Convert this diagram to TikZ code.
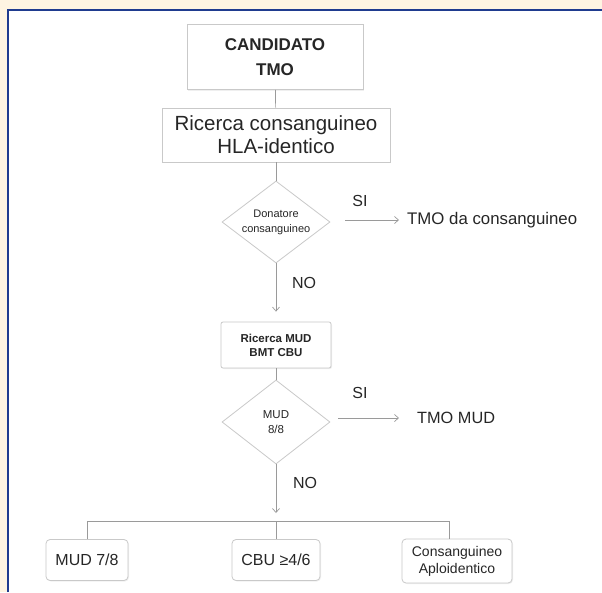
\documentclass[tikz,border=0pt]{standalone}
\usepackage{fontspec}
\setmainfont{Liberation Sans}
\usetikzlibrary{arrows.meta,shapes.geometric,shadows}
\definecolor{cream}{HTML}{FEF4E2}
\definecolor{navy}{HTML}{1F3B8F}
\definecolor{ink}{HTML}{262626}
\definecolor{edge}{HTML}{C9C9C9}
\definecolor{wire}{HTML}{9A9A9A}
\tikzset{
  box/.style={draw=edge, line width=0.8pt, fill=white, text=ink, align=center,
    inner sep=2pt, drop shadow={opacity=0.12, shadow xshift=1pt, shadow yshift=-1pt}},
  rbox/.style={box, rounded corners=4pt},
  dia/.style={draw=edge, line width=0.8pt, diamond, inner sep=0pt},
  txt/.style={text=ink, inner sep=0pt, align=center},
  wireline/.style={draw=wire, line width=0.7pt},
  arr/.style={wireline, -{Straight Barb[length=4pt,width=7pt]}},
}
\begin{document}
\begin{tikzpicture}[x=1pt,y=-1pt]
\useasboundingbox (0,0) rectangle (602,592);
\fill[cream] (0,0) rectangle (602,592);
\fill[white] (8,10) rectangle (602,592);
\draw[navy, line width=2pt] (8,592) -- (8,10) -- (602,10);

% main column
\node[box, minimum width=176pt, minimum height=65pt, font=\fontsize{17}{25}\selectfont\bfseries] (cand) at (275,57) {CANDIDATO\\TMO};
\node[box, minimum width=228pt, minimum height=54pt, font=\fontsize{20.5}{23}\selectfont] (ric) at (276,135) {Ricerca consanguineo\\HLA-identico};
\node[dia, minimum width=108pt, minimum height=82pt] (d1) at (276,222) {};
\node[txt, font=\fontsize{11}{15}\selectfont] (d1t) at (d1.center) {Donatore\\consanguineo};
\node[txt, font=\fontsize{16.8}{17}\selectfont, anchor=west] (tmo1) at (407,220) {TMO da consanguineo};
\node[txt, font=\fontsize{16}{16}\selectfont] (si1) at (360,201) {SI};
\node[txt, font=\fontsize{16}{16}\selectfont] (no1) at (304,283) {NO};

\node[rbox, rounded corners=2pt, minimum width=110pt, minimum height=46pt, font=\fontsize{11.5}{14}\selectfont\bfseries] (mud) at (276,345) {Ricerca MUD\\BMT CBU};
\node[dia, minimum width=108pt, minimum height=84pt] (d2) at (276,422) {};
\node[txt, font=\fontsize{11.5}{15}\selectfont] (d2t) at (d2.center) {MUD\\8/8};
\node[txt, font=\fontsize{16.3}{17}\selectfont, anchor=west] (tmo2) at (417,418) {TMO MUD};
\node[txt, font=\fontsize{16}{16}\selectfont] (si2) at (360,393) {SI};
\node[txt, font=\fontsize{16}{16}\selectfont] (no2) at (305,483) {NO};

\coordinate (bus) at (276,521);
\coordinate (br) at (449,521);

% bottom row
\node[rbox, minimum width=82pt, minimum height=41pt, font=\fontsize{16}{18}\selectfont] (m78) at (87,560) {MUD 7/8};
\node[rbox, minimum width=88pt, minimum height=41pt, font=\fontsize{16}{18}\selectfont] (cbu) at (276,560) {CBU ≥4/6};
\node[rbox, minimum width=110pt, minimum height=44pt, font=\fontsize{14}{17}\selectfont] (cons) at (457,561) {Consanguineo\\Aploidentico};

% connectors
\draw[wireline] (cand) -- (ric);
\draw[wireline] (ric) -- (d1.north);
\draw[arr, shorten >=10pt] (d1.south) -- (mud.north);
\draw[arr, shorten <=15pt, shorten >=8pt] (d1.east |- tmo1.west) -- (tmo1.west);
\draw[wireline] (mud) -- (d2.north);
\draw[arr, shorten <=8pt, shorten >=18pt] (d2.east |- tmo2.west) -- (tmo2.west);
\draw[arr, shorten >=8pt] (d2.south) -- (bus);
\draw[wireline] (m78.north) -- (m78.north |- bus) -- (br) -- (br |- cons.north);
\draw[wireline] (bus) -- (cbu.north);
\end{tikzpicture}
\end{document}
